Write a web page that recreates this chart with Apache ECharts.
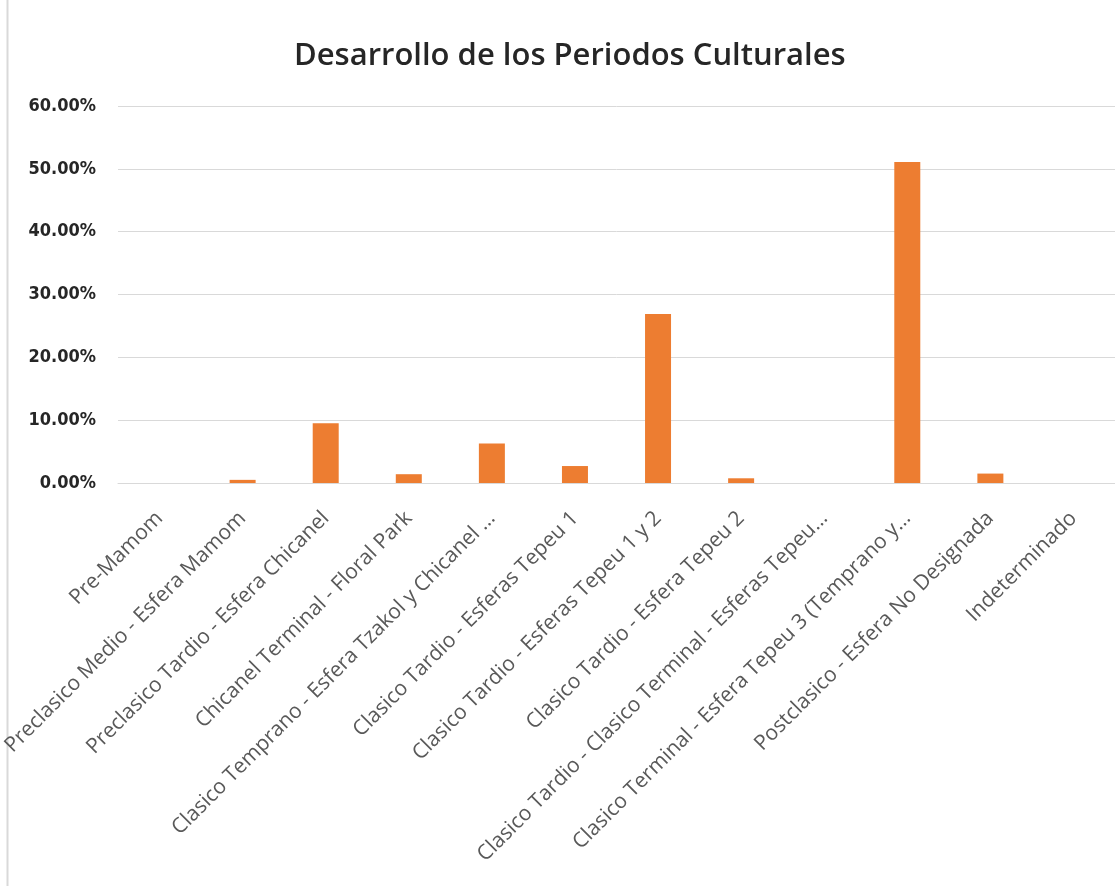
<!DOCTYPE html>
<html>
<head>
<meta charset="utf-8">
<script src="https://cdn.jsdelivr.net/npm/echarts@6/dist/echarts.min.js"></script>
<style>
html,body{margin:0;padding:0;background:#fff;}
#chart{width:1115px;height:886px;}
</style>
</head>
<body>
<div id="chart"></div>
<script>
const titleText = 'Desarrollo de los Periodos Culturales';
const categories = [
  'Pre-Mamom',
  'Preclasico Medio - Esfera Mamom',
  'Preclasico Tardio - Esfera Chicanel',
  'Chicanel Terminal - Floral Park',
  'Clasico Temprano - Esfera Tzakol y Chicanel …',
  'Clasico Tardio - Esferas Tepeu 1',
  'Clasico Tardio - Esferas Tepeu 1 y 2',
  'Clasico Tardio - Esfera Tepeu 2',
  'Clasico Tardio - Clasico Terminal - Esferas Tepeu…',
  'Clasico Terminal - Esfera Tepeu 3 (Temprano y…',
  'Postclasico - Esfera No Designada',
  'Indeterminado'
];
const values = [0, 0.5, 9.5, 1.4, 6.3, 2.7, 26.9, 0.75, 0, 51.1, 1.5, 0];
const yTicks = [0, 10, 20, 30, 40, 50, 60];

const chart = echarts.init(document.getElementById('chart'), null, {renderer: 'canvas'});
chart.setOption({
  animation: false,
  backgroundColor: '#ffffff',
  title: {
    text: titleText,
    left: 289,
    top: 36,
    textStyle: {fontFamily: 'Open Sans', fontSize: 31, fontWeight: 600, color: '#262626'}
  },
  graphic: [{
    type: 'line',
    shape: {x1: 7.5, y1: 0, x2: 7.5, y2: 886},
    style: {stroke: '#d9d9d9', lineWidth: 2}
  }],
  grid: {left: 118, right: 0, top: 106, bottom: 403, containLabel: false, outerBoundsMode: 'none'},
  xAxis: {
    type: 'category',
    data: categories,
    axisLine: {show: true, lineStyle: {color: '#d9d9d9'}},
    axisTick: {show: false},
    axisLabel: {
      rotate: 45,
      interval: 0,
      margin: 32,
      fontFamily: 'Open Sans',
      fontSize: 21,
      color: '#595959'
    }
  },
  yAxis: {
    type: 'value',
    min: yTicks[0],
    max: yTicks[yTicks.length - 1],
    interval: 10,
    axisLine: {show: false},
    axisTick: {show: false},
    splitLine: {lineStyle: {color: '#d9d9d9', width: 1}},
    axisLabel: {
      margin: 22,
      fontFamily: 'DejaVu Sans Condensed, Liberation Sans',
      fontWeight: 'bold',
      fontSize: 18,
      color: '#262626',
      formatter: v => v.toFixed(2) + '%'
    }
  },
  series: [{
    type: 'bar',
    data: values,
    barWidth: 26,
    itemStyle: {color: '#ED7D31'}
  }]
});
</script>
</body>
</html>
